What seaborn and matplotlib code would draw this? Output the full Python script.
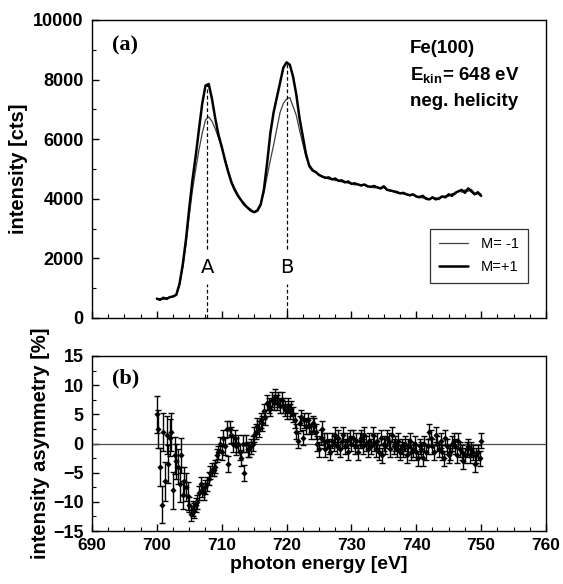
import numpy as np
import pandas as pd
import matplotlib
matplotlib.use("Agg")
import matplotlib.pyplot as plt
import seaborn as sns
from matplotlib.ticker import MultipleLocator

# ---------------- data ----------------
energy_int = [700 + 0.5 * i for i in range(101)]
int_m_plus = [650, 610, 680, 640, 700, 720, 780, 1150, 1800, 2650,
              3700, 4650, 5450, 6350, 7200, 7800, 7850, 7350, 6700, 6150,
              5750, 5300, 4900, 4550, 4300, 4100, 3950, 3800, 3700, 3600,
              3550, 3600, 3800, 4300, 5200, 6200, 6900, 7400, 7900, 8400,
              8580, 8500, 8100, 7500, 6700, 6100, 5500, 5100, 4950, 4900,
              4800, 4750, 4700, 4720, 4650, 4680, 4600, 4620, 4550, 4580,
              4500, 4520, 4480, 4450, 4480, 4420, 4400, 4430, 4380, 4350,
              4420, 4300, 4280, 4250, 4230, 4180, 4200, 4150, 4120, 4150,
              4080, 4050, 4100, 4000, 3980, 4050, 3980, 4020, 4080, 4050,
              4150, 4100, 4200, 4250, 4300, 4200, 4350, 4250, 4150, 4200,
              4100]
int_m_minus = [640, 650, 620, 680, 690, 740, 760, 1100, 1700, 2500,
               3450, 4300, 5000, 5650, 6200, 6650, 6750, 6600, 6350, 6050,
               5700, 5350, 4950, 4600, 4350, 4150, 3950, 3850, 3700, 3650,
               3550, 3650, 3850, 4200, 4750, 5300, 5800, 6350, 6900, 7200,
               7350, 7400, 7100, 6800, 6300, 5850, 5400, 5150, 5000, 4880,
               4820, 4720, 4730, 4660, 4680, 4610, 4630, 4560, 4590, 4520,
               4530, 4460, 4500, 4430, 4460, 4400, 4420, 4360, 4400, 4330,
               4380, 4290, 4260, 4240, 4190, 4210, 4160, 4140, 4100, 4130,
               4060, 4090, 4020, 4050, 3990, 4010, 4040, 3970, 4060, 4100,
               4080, 4180, 4150, 4280, 4220, 4300, 4250, 4320, 4180, 4250,
               4150]

energy_asym = [700 + 0.25 * i for i in range(201)]
asymmetry = [5.0, 2.5, -4.0, -10.5,   2.0, -6.5, 1.5, -3.5,
             1.0, 2.0, -8.0, -2.0,    -3.0, -4.0, -7.0, -2.0,
             -8.8, -6.5, -7.5, -9.0,  -10.5, -12.0, -11.2, -11.5,
             -10.5, -10.0, -8.5, -7.0, -8.0, -8.5, -7.5, -7.0,
             -6.0, -5.0, -4.5, -4.5,  -4.0, -2.0, -1.5, 0.0,
             -1.5, 1.0, -0.5, 2.5,    -3.5, 2.5, 1.5, 0.0,
             1.0, -0.5, 0.0, -1.5,    -2.5, 0.0, -5.0, 0.0,
             -1.0, -1.0, -0.5, 0.0,   1.5, 2.0, 3.0, 2.5,
             4.0, 3.5, 5.5, 4.5,      7.0, 6.5, 6.0, 7.5,
             7.0, 8.0, 7.0, 7.5,      6.5, 7.5, 6.5, 6.0,
             5.5, 6.5, 5.5, 6.0,      5.0, 4.0, 2.0, 0.5,
             3.5, 4.5, 1.0, 4.0,      3.0, 4.0, 3.0, 2.0,
             3.5, 3.0, 2.0, 0.0,      -1.0, 1.0, 2.5, 0.5,
             -1.0, 0.5, -0.5, -1.5,   0.5, 0.0, 1.5, -0.5,
             1.0, -1.0, 0.5, 1.5,     -0.5, 0.5, -1.5, 1.0,
             0.0, 1.0, -0.5, 0.5,     -1.5, 0.5, 1.0, -0.5,
             1.5, 0.0, -1.0, 0.5,     -0.5, 1.5, 0.0, -1.0,
             0.5, -1.5, 1.0, -2.0,    0.0, -0.5, 1.0, 0.5,
             -1.0, 1.5, -0.5, 0.0,    -1.0, 0.5, -1.5, -0.5,
             -1.0, 0.0, -2.0, -0.5,   0.5, -1.5, -1.0, 0.0,
             -1.5, -2.5, -0.5, -1.0,  -2.5, 0.0, -1.5, -0.5,
             2.0, 1.0, -0.5, -1.5,    1.5, 0.0, -1.0, 0.5,
             -1.5, -2.5, 1.0, -0.5,   -2.0, -1.5, 0.0, 0.5,
             -0.5, -2.0, 0.5, -1.0,   -1.5, -3.0, -2.0, -1.0,
             -0.5, -2.0, -1.0, -1.5,  -3.5, -2.0, -1.5, -2.5,
             0.5]
# error bar half-size per 1-eV block (700..749) and for the last point
asym_err_block = [3.2, 3.3, 3.2, 3.0, 2.4, 1.3, 1.2, 1.2, 1.1, 1.1,
                  1.4, 1.4, 1.4, 1.4, 1.3, 1.3, 1.3, 1.3, 1.3, 1.3,
                  1.3, 1.3, 1.3, 1.3, 1.3, 1.3, 1.3, 1.3, 1.3, 1.3,
                  1.3, 1.3, 1.3, 1.3, 1.3, 1.3, 1.3, 1.3, 1.3, 1.3,
                  1.3, 1.3, 1.3, 1.3, 1.3, 1.3, 1.3, 1.3, 1.3, 1.3]
asym_err_last = 1.3

peak_labels = ["A", "B"]
peak_energy = [707.8, 720.0]
peak_top = [7850, 8580]

legend_labels = ["M= -1", "M=+1"]
info_lines = ["Fe(100)", r"$\mathbf{E_{kin}}$= 648 eV", "neg. helicity"]

# ---------------- style ----------------
sns.set_theme(style="ticks")
plt.rcParams["font.family"] = ["Liberation Sans", "DejaVu Sans"]
plt.rcParams["font.weight"] = "bold"
plt.rcParams["mathtext.fontset"] = "custom"
plt.rcParams["mathtext.bf"] = "Liberation Sans:bold"
plt.rcParams["mathtext.rm"] = "Liberation Sans:bold"
plt.rcParams["xtick.direction"] = "in"
plt.rcParams["ytick.direction"] = "in"
for key in ["text.color", "axes.labelcolor", "xtick.color", "ytick.color",
            "axes.edgecolor"]:
    plt.rcParams[key] = "black"

fig = plt.figure(figsize=(5.63, 5.84), dpi=100)
left, width = 92 / 563, 454 / 563
ax1 = fig.add_axes([left, 1 - 318 / 584, width, 298 / 584])
ax2 = fig.add_axes([left, 1 - 531 / 584, width, 175 / 584])

# ---------------- panel (a) ----------------
df_int = pd.DataFrame({
    "energy": energy_int * 2,
    "intensity": int_m_minus + int_m_plus,
    "M": [legend_labels[0]] * len(energy_int) + [legend_labels[1]] * len(energy_int),
})
sns.lineplot(data=df_int[df_int["M"] == legend_labels[0]], x="energy", y="intensity",
             ax=ax1, color="0.25", lw=0.9, label=legend_labels[0])
sns.lineplot(data=df_int[df_int["M"] == legend_labels[1]], x="energy", y="intensity",
             ax=ax1, color="black", lw=1.8, label=legend_labels[1])

for lab, e, top in zip(peak_labels, peak_energy, peak_top):
    ax1.plot([e, e], [0, 1150], ls=(0, (3, 2)), color="black", lw=0.9)
    ax1.plot([e, e], [2300, top], ls=(0, (3, 2)), color="black", lw=0.9)
    ax1.text(e, 1700, lab, ha="center", va="center", fontsize=14,
             fontweight="normal", family=["DejaVu Sans"])

ax1.set_xlim(690, 760)
ax1.set_ylim(0, 10000)
ax1.xaxis.set_major_locator(MultipleLocator(10))
ax1.xaxis.set_minor_locator(MultipleLocator(2.5))
ax1.yaxis.set_major_locator(MultipleLocator(2000))
ax1.yaxis.set_minor_locator(MultipleLocator(1000))
ax1.tick_params(axis="x", labelbottom=False)
ax1.tick_params(which="major", length=5, width=1)
ax1.tick_params(which="minor", length=3, width=0.8)
ax1.tick_params(axis="y", labelsize=13, pad=6)
ax1.set_xlabel("")
ax1.set_ylabel("intensity [cts]", fontsize=14.5, fontweight="bold", labelpad=4)

ax1.text(0.045, 0.915, "(a)", transform=ax1.transAxes, fontsize=16,
         fontweight="bold", family=["Liberation Serif"], va="center")
for i, line in enumerate(info_lines):
    ax1.text(0.70, 0.906 - i * 0.089, line, transform=ax1.transAxes,
             fontsize=13.5, fontweight="bold", va="center", ha="left")

leg = ax1.legend(loc="lower right", bbox_to_anchor=(0.96, 0.118), borderaxespad=0,
                 frameon=True, fancybox=False, edgecolor="black", fontsize=10.5,
                 handlelength=2.0, borderpad=0.6, labelspacing=0.6, handletextpad=0.9)
leg.get_frame().set_linewidth(0.9)
for t in leg.get_texts():
    t.set_fontweight("normal")

# ---------------- panel (b) ----------------
asym_err = list(np.repeat(asym_err_block, 4)) + [asym_err_last]
df_asym = pd.DataFrame({"energy": energy_asym, "asym": asymmetry, "err": asym_err})
ax2.axhline(0, color="0.3", lw=0.9, zorder=1)
ax2.errorbar(df_asym["energy"], df_asym["asym"], yerr=df_asym["err"], fmt="none",
             ecolor="black", elinewidth=1.0, capsize=2.0, capthick=1.0, zorder=2)
sns.scatterplot(data=df_asym, x="energy", y="asym", ax=ax2, color="black",
                marker="D", s=10, linewidth=0, zorder=3)

ax2.set_xlim(690, 760)
ax2.set_ylim(-15, 15)
ax2.xaxis.set_major_locator(MultipleLocator(10))
ax2.xaxis.set_minor_locator(MultipleLocator(2.5))
ax2.yaxis.set_major_locator(MultipleLocator(5))
ax2.yaxis.set_minor_locator(MultipleLocator(2.5))
ax2.tick_params(which="major", length=5, width=1)
ax2.tick_params(which="minor", length=3, width=0.8)
ax2.tick_params(axis="both", labelsize=12.5)
ax2.tick_params(axis="y", labelsize=13, pad=6)
ax2.tick_params(axis="x", pad=5)
ax2.set_xlabel("photon energy [eV]", fontsize=14, fontweight="bold", labelpad=2)
ax2.set_ylabel("intensity asymmetry [%]", fontsize=14.5, fontweight="bold", labelpad=2)
ax2.text(0.045, 0.87, "(b)", transform=ax2.transAxes, fontsize=16,
         fontweight="bold", family=["Liberation Serif"], va="center")

for ax in (ax1, ax2):
    for sp in ax.spines.values():
        sp.set_linewidth(1.0)
        sp.set_color("black")
    for lbl in ax.get_xticklabels() + ax.get_yticklabels():
        lbl.set_fontweight("bold")

fig.savefig("out.png", dpi=100)
